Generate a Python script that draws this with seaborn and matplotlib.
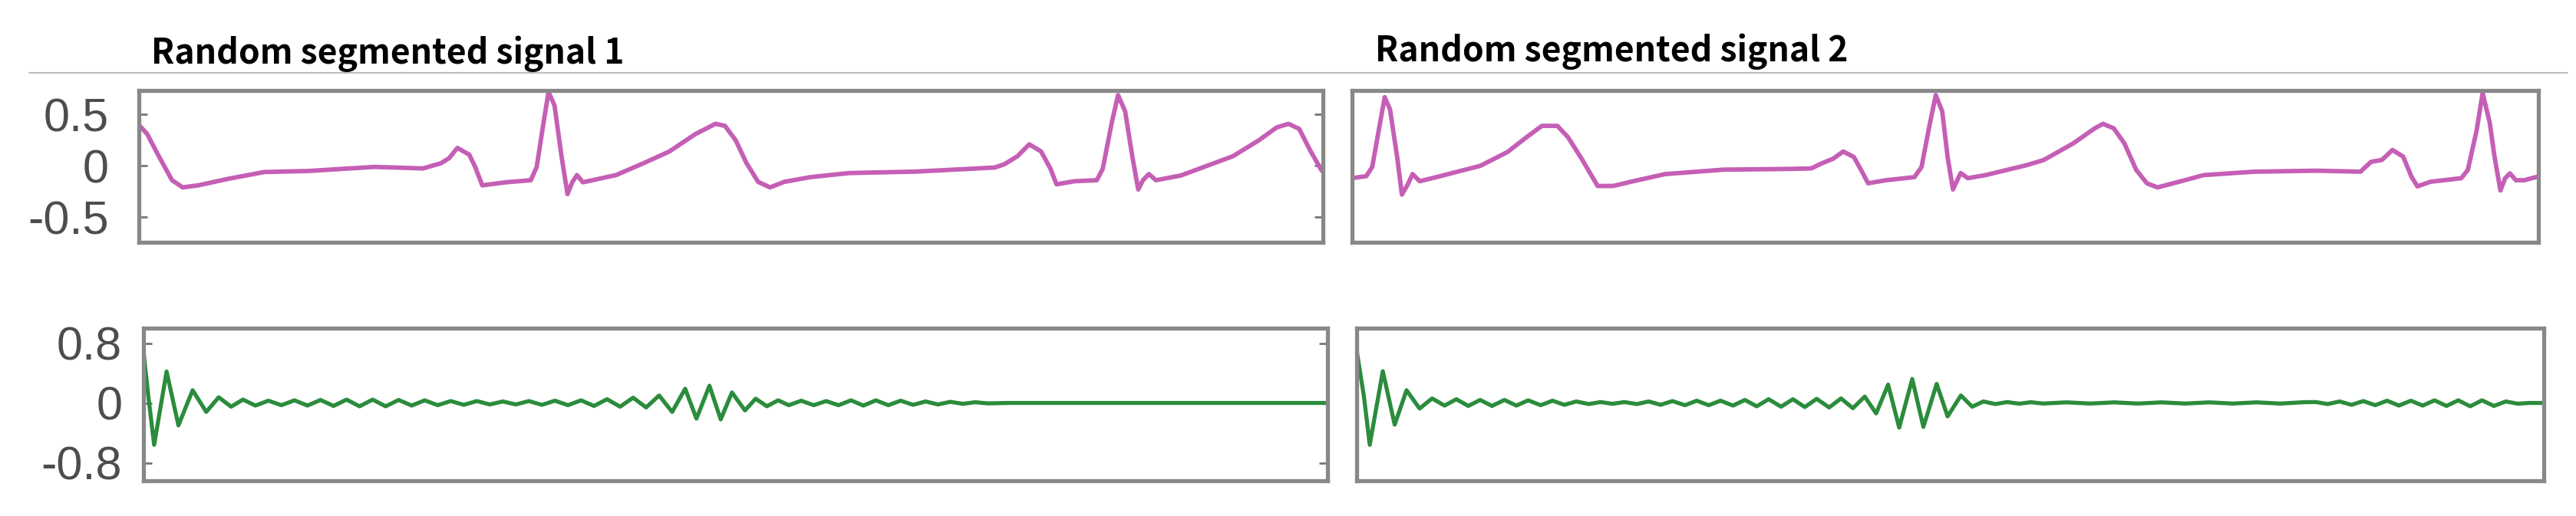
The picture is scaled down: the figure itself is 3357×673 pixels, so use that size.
import matplotlib
matplotlib.use("Agg")
import matplotlib.pyplot as plt
from matplotlib.lines import Line2D
import seaborn as sns

titles = ["Random segmented signal 1", "Random segmented signal 2"]
ecg_ticks = [0.5, 0, -0.5]
ecg_ticklabels = ["0.5", "0", "-0.5"]
imf_ticks = [0.8, 0, -0.8]
imf_ticklabels = ["0.8", "0", "-0.8"]

# segment 1, ECG (pink), sample index 0..1000
ecg1_x = [0, 7, 17, 28, 37, 50, 76, 106, 143, 199,
          240, 255, 262, 269, 279, 284, 290, 310, 331, 336,
          342, 346, 351, 357, 362, 366, 370, 375, 383, 403,
          426, 448, 470, 487, 495, 504, 513, 523, 533, 545,
          567, 600, 656, 723, 731, 742, 752, 762, 770, 775,
          790, 809, 814, 822, 827, 833, 839, 844, 848, 853,
          859, 880, 902, 924, 946, 961, 971, 980, 989, 999]
ecg1_y = [0.40, 0.31, 0.09, -0.14, -0.21, -0.19, -0.125, -0.06, -0.05, -0.01,
          -0.025, 0.025, 0.075, 0.175, 0.11, -0.01, -0.19, -0.16, -0.14, -0.01,
          0.44, 0.72, 0.59, 0.09, -0.275, -0.16, -0.09, -0.16, -0.14, -0.09,
          0.025, 0.14, 0.31, 0.41, 0.39, 0.25, 0.03, -0.156, -0.21, -0.156,
          -0.11, -0.07, -0.056, -0.016, 0.016, 0.094, 0.21, 0.14, -0.03, -0.18,
          -0.15, -0.14, -0.03, 0.44, 0.69, 0.53, 0.094, -0.23, -0.14, -0.08,
          -0.14, -0.094, 0.0, 0.094, 0.25, 0.375, 0.41, 0.36, 0.156, -0.047]

# segment 2, ECG (pink)
ecg2_x = [0, 12, 17, 23, 27.5, 32, 38, 42, 47, 51,
          57, 71, 108, 131, 146, 160, 173, 182, 194, 207,
          220, 238, 264, 313, 368, 387, 396, 405.5, 414, 423,
          430, 435, 450, 474, 480, 486.5, 492, 497.5, 502, 506.5,
          513, 519, 534, 569, 583, 608, 626, 633, 642, 651,
          661, 670, 679, 697, 718, 760, 813, 850, 859, 868,
          877, 886, 893, 898, 909, 935, 940.5, 948, 953, 959,
          963, 968, 972, 976, 981, 988, 999]
ecg2_y = [-0.12, -0.10, -0.01, 0.38, 0.67, 0.55, 0.086, -0.28, -0.18, -0.08,
          -0.15, -0.11, 0.0, 0.135, 0.27, 0.39, 0.39, 0.28, 0.06, -0.196,
          -0.196, -0.147, -0.08, -0.037, -0.03, -0.025, 0.025, 0.07, 0.14, 0.086,
          -0.06, -0.17, -0.14, -0.11, -0.012, 0.38, 0.69, 0.53, 0.086, -0.23,
          -0.07, -0.12, -0.09, 0.008, 0.057, 0.22, 0.366, 0.41, 0.366, 0.22,
          -0.04, -0.17, -0.21, -0.155, -0.09, -0.057, -0.047, -0.057, 0.04, 0.057,
          0.155, 0.09, -0.106, -0.2, -0.155, -0.12, -0.04, 0.35, 0.71, 0.42,
          0.09, -0.24, -0.12, -0.073, -0.14, -0.14, -0.106]

# segment 1, oscillatory component (green)
imf1_x = [0, 4, 9, 19.5, 29.5, 41.5, 53, 63.5, 74, 84,
          94.5, 105.5, 116.5, 127.5, 138.5, 149.5, 160.5, 171.5, 182.5, 193.5,
          204.5, 215.5, 226.5, 237.5, 248.5, 259.5, 270.5, 281.5, 292.5, 303.5,
          314.5, 325.5, 336.5, 347.5, 358.5, 369.5, 380.5, 391.5, 402.5, 413.5,
          424.5, 435.5, 446.5, 457.5, 467, 478, 487.5, 497, 508, 517,
          526.5, 536, 545, 555.5, 566, 576.5, 587, 597.5, 608, 618.5,
          629, 639.5, 650, 660.5, 671, 681.5, 692, 702.5, 713, 730,
          1000]
imf1_y = [0.69, 0.10, -0.56, 0.42, -0.30, 0.17, -0.12, 0.076, -0.05, 0.045,
          -0.035, 0.03, -0.03, 0.035, -0.035, 0.04, -0.04, 0.045, -0.045, 0.045,
          -0.045, 0.04, -0.035, 0.035, -0.03, 0.025, -0.025, 0.025, -0.02, 0.02,
          -0.02, 0.025, -0.025, 0.03, -0.03, 0.035, -0.04, 0.05, -0.05, 0.07,
          -0.06, 0.10, -0.12, 0.19, -0.21, 0.23, -0.22, 0.14, -0.10, 0.057,
          -0.044, 0.035, -0.03, 0.03, -0.03, 0.025, -0.03, 0.035, -0.035, 0.035,
          -0.03, 0.03, -0.025, 0.02, -0.02, 0.015, -0.012, 0.01, -0.006, 0.0,
          0.0]

# segment 2, oscillatory component (green)
imf2_x = [0, 6, 11, 22, 32, 42, 53, 63.5, 74, 84,
          94, 104, 114, 124.5, 134.5, 144.5, 155, 165, 175, 185,
          195.5, 205.5, 215.5, 225.5, 236, 246, 256, 266, 276.5, 286.5,
          296.5, 306.5, 317, 327, 337, 347, 357.5, 367.5, 377.5, 387.5,
          398, 408, 418, 428, 437.6, 447.7, 457, 468, 477.4, 488.6,
          497.8, 509, 518.5, 528, 538, 548, 558, 568, 578, 598,
          618, 638, 658, 678, 698, 718, 738, 758, 778, 798,
          808, 818, 828, 838, 848, 858, 868, 878, 888, 898,
          908, 918, 928, 938, 948, 958, 968, 978, 988, 1000]
imf2_y = [0.70, 0.10, -0.56, 0.425, -0.29, 0.17, -0.075, 0.06, -0.035, 0.05,
          -0.04, 0.04, -0.04, 0.04, -0.035, 0.035, -0.03, 0.03, -0.025, 0.02,
          -0.015, 0.012, -0.012, 0.012, -0.015, 0.02, -0.025, 0.025, -0.03, 0.03,
          -0.03, 0.03, -0.035, 0.04, -0.045, 0.05, -0.05, 0.05, -0.055, 0.055,
          -0.06, 0.06, -0.07, 0.085, -0.14, 0.245, -0.33, 0.32, -0.32, 0.255,
          -0.18, 0.10, -0.05, 0.02, -0.015, 0.012, -0.01, 0.01, -0.008, 0.008,
          -0.008, 0.008, -0.008, 0.008, -0.008, 0.008, -0.008, 0.008, -0.008, 0.01,
          0.012, -0.015, 0.02, -0.025, 0.025, -0.03, 0.03, -0.035, 0.03, -0.035,
          0.035, -0.04, 0.035, -0.045, 0.035, -0.04, 0.02, -0.01, 0.0, 0.0]

pink = "#c55fb5"
green = "#2b8c3c"
frame = "#888888"

sns.set_theme(style="white")
plt.rcParams["font.family"] = ["Liberation Sans", "DejaVu Sans"]

W, H = 3357, 673
fig = plt.figure(figsize=(W / 100, H / 100), dpi=100)
fig.patch.set_facecolor("white")


def px_axes(x0, y0, x1, y1):
    # axes from pixel box (top-left origin)
    return fig.add_axes([x0 / W, 1 - y1 / H, (x1 - x0) / W, (y1 - y0) / H])


ax_e1 = px_axes(181, 118, 1724, 316)
ax_e2 = px_axes(1762, 118, 3308, 316)
ax_i1 = px_axes(187, 428, 1730, 627)
ax_i2 = px_axes(1768, 428, 3315, 627)

line_kw = dict(estimator=None, solid_joinstyle="round", solid_capstyle="round")
sns.lineplot(x=ecg1_x, y=ecg1_y, ax=ax_e1, color=pink, linewidth=4.2, **line_kw)
sns.lineplot(x=ecg2_x, y=ecg2_y, ax=ax_e2, color=pink, linewidth=4.2, **line_kw)
sns.lineplot(x=imf1_x, y=imf1_y, ax=ax_i1, color=green, linewidth=3.8, **line_kw)
sns.lineplot(x=imf2_x, y=imf2_y, ax=ax_i2, color=green, linewidth=3.8, **line_kw)

for ax in [ax_e1, ax_e2]:
    ax.set_ylim(-0.745, 0.735)
for ax in [ax_i1, ax_i2]:
    ax.set_ylim(-1.04, 1.0)

for ax in [ax_e1, ax_e2, ax_i1, ax_i2]:
    ax.set_xlim(0, 1000)
    ax.set_xticks([])
    ax.set_xlabel("")
    ax.set_ylabel("")
    ax.set_facecolor("white")
    for s in ax.spines.values():
        s.set_visible(True)
        s.set_color(frame)
        s.set_linewidth(3.8)

ax_e1.set_yticks(ecg_ticks)
ax_e1.set_yticklabels(ecg_ticklabels)
ax_e1.tick_params(axis="y", direction="in", left=True, right=True, length=8,
                  width=2, color="#777777", labelsize=44, labelcolor="#4d4d4d", pad=28)
ax_i1.set_yticks(imf_ticks)
ax_i1.set_yticklabels(imf_ticklabels)
ax_i1.tick_params(axis="y", direction="in", left=True, right=True, length=8,
                  width=2, color="#777777", labelsize=44, labelcolor="#4d4d4d", pad=20)
for ax in [ax_e2, ax_i2]:
    ax.set_yticks([])

fig.text(197 / W, 1 - 83 / H, titles[0], fontsize=32, fontweight="bold",
         family=["Noto Sans CJK KR", "DejaVu Sans"], va="baseline", color="black")
fig.text(1792 / W, 1 - 80 / H, titles[1], fontsize=32, fontweight="bold",
         family=["Noto Sans CJK KR", "DejaVu Sans"], va="baseline", color="black")

fig.add_artist(Line2D([38 / W, 3346 / W], [1 - 95 / H, 1 - 95 / H],
                      color="#bdbdbd", linewidth=1.5))

fig.savefig("out.png", dpi=100, facecolor="white")
